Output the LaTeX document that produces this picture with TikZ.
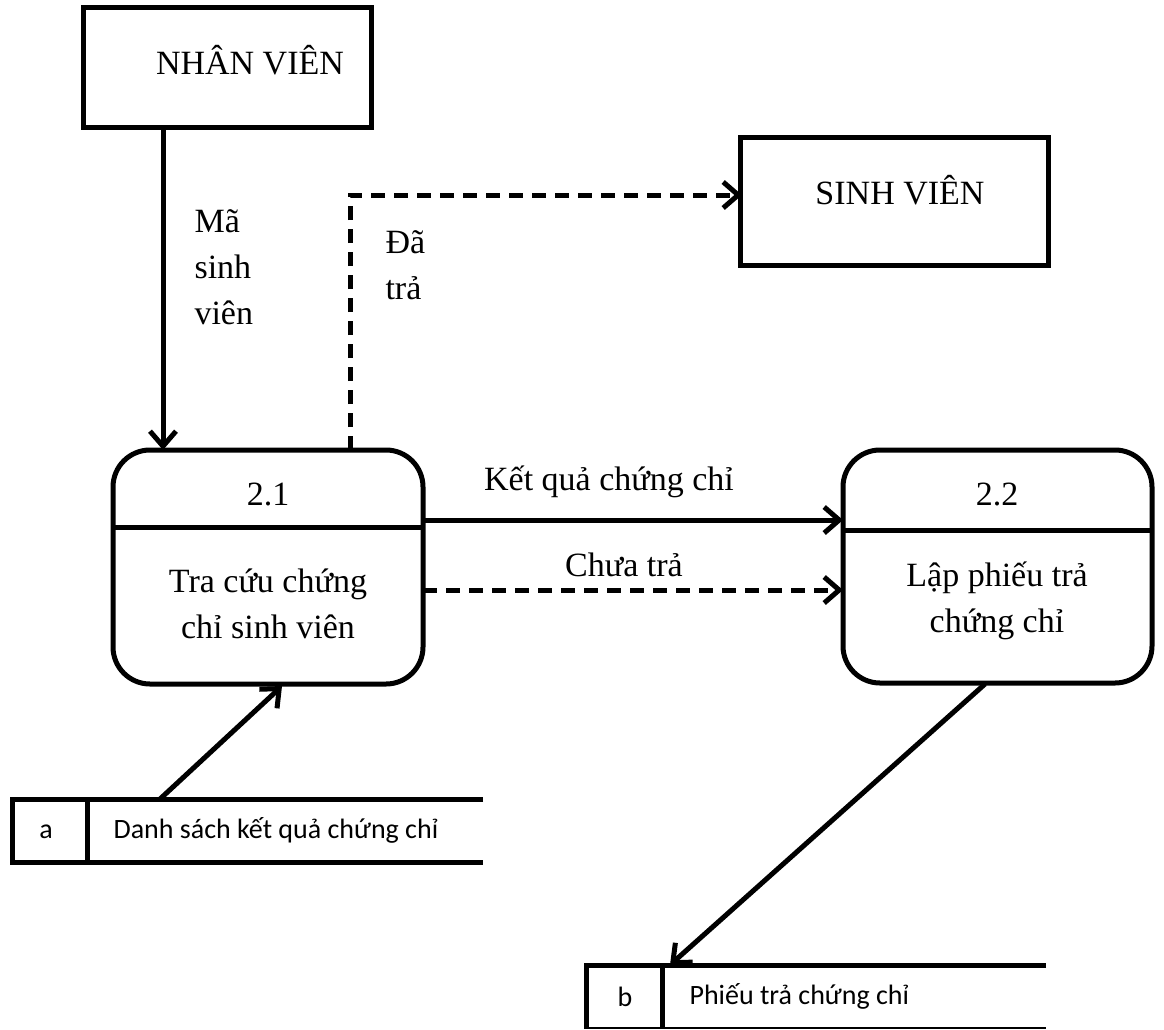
\documentclass[tikz,border=0pt]{standalone}
\usepackage{fontspec}
\setmainfont{Liberation Serif}
\newfontfamily\calib{Carlito}
\usetikzlibrary{arrows.meta}
\begin{document}
\begin{tikzpicture}[x=1pt,y=-1pt,
  lw/.style={line width=5pt},
  flow/.style={lw,-{Straight Barb[length=15pt,width=26pt,line width=5pt]}},
  dflow/.style={flow,dash pattern=on 14pt off 9pt},
  ent/.style={draw,lw,rectangle,inner sep=0pt},
  lbl/.style={font=\fontsize{34}{46}\selectfont},
  slbl/.style={font=\calib\fontsize{28}{32}\selectfont}]
\useasboundingbox (0,0) rectangle (1164,1029);
% entities
\node[ent,minimum width=288pt,minimum height=120pt] (nv) at (227,67) {};
\node[lbl] at (250,60) {NHÂN VIÊN};
\node[ent,minimum width=308pt,minimum height=128pt] (sv) at (894,201) {};
\node[lbl] at (900,190) {SINH VIÊN};
% processes
\draw[lw,rounded corners=37pt] (113,450) rectangle (423,684);
\draw[lw] (113,527) -- (423,527);
\node[lbl] at (268,494) {2.1};
\node[lbl,align=center] at (268,604) {Tra cứu chứng\\chỉ sinh viên};
\draw[lw,rounded corners=37pt] (843,450) rectangle (1152,683);
\draw[lw] (843,530) -- (1152,530);
\node[lbl] at (997,494) {2.2};
\node[lbl,align=center] at (997,601) {Lập phiếu trả\\chứng chỉ};
% named points
\coordinate (nvb) at (163,127);
\coordinate (p1top) at (163,450);
\coordinate (p1d) at (350,450);
\coordinate (corner) at (350,195);
\coordinate (svl) at (742,195);
\coordinate (p1r1) at (423,520);
\coordinate (p2l1) at (843,520);
\coordinate (p1r2) at (423,590);
\coordinate (p2l2) at (843,590);
\coordinate (sa) at (160,799);
\coordinate (p1b) at (282,686);
\coordinate (p2b) at (985,684);
\coordinate (sb) at (670,965);
% stores
\draw[lw] (483,799) -- (12,799) -- (12,862) -- (483,862);
\draw[lw] (87,799) -- (87,862);
\node[slbl] at (46,832) {a};
\node[slbl,anchor=west] at (110,830) {Danh sách kết quả chứng chỉ};
\draw[lw] (1046,965) -- (586,965) -- (586,1029);
\draw[lw] (662,965) -- (662,1029);
\draw[line width=2pt] (586,1028) -- (1046,1028);
\node[slbl] at (625,997) {b};
\node[slbl,anchor=west] at (686,996) {Phiếu trả chứng chỉ};
% flows
\draw[flow] (nvb) -- (p1top);
\node[lbl,align=left,anchor=north west] at (191,206) {Mã\\sinh\\viên};
\draw[dflow] (p1d) -- (corner) -- (svl);
\node[lbl,align=left,anchor=north west] at (382,227) {Đã\\trả};
\draw[flow] (p1r1) -- (p2l1);
\node[lbl] at (609,482) {Kết quả chứng chỉ};
\draw[dflow] (p1r2) -- (p2l2);
\node[lbl] at (624,565) {Chưa trả};
\draw[flow] (sa) -- (p1b);
\draw[flow] (p2b) -- (sb);
\end{tikzpicture}
\end{document}
